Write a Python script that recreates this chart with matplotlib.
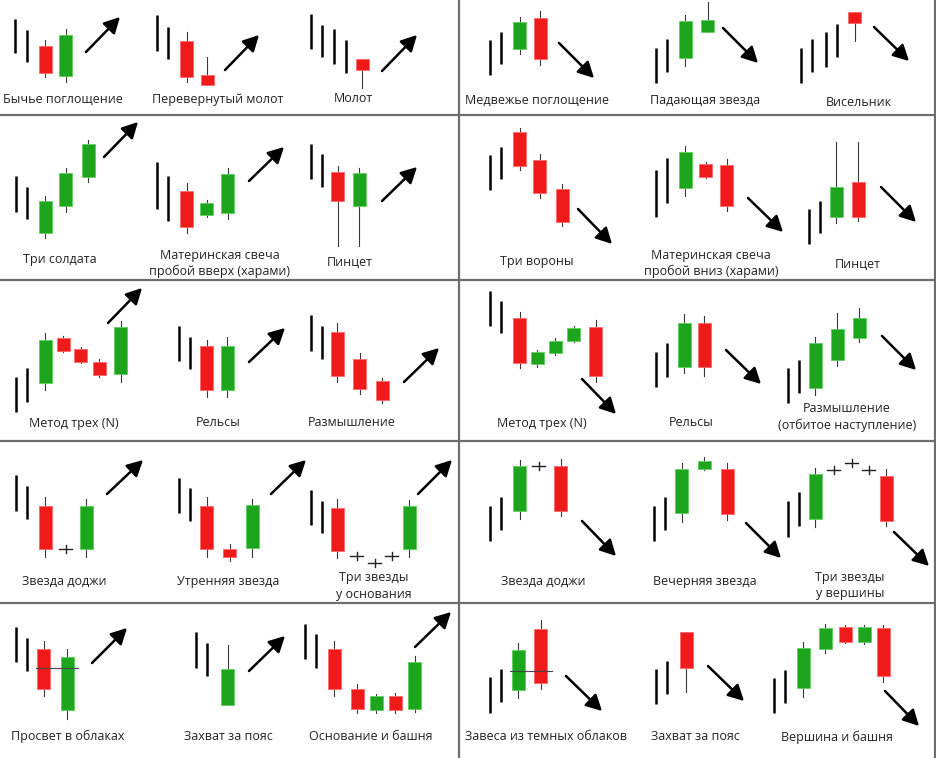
import matplotlib
matplotlib.use("Agg")
import matplotlib.pyplot as plt

plt.rcParams['font.family'] = ['Open Sans', 'DejaVu Sans']

# everything is in image pixels: x to the right, y downwards
# candle: (x, body_top, body_bottom, wick_top, wick_bottom, colour)
labels = [
    ["Бычье поглощение"], ["Перевернутый молот"], ["Молот"],
    ["Медвежье поглощение"], ["Падающая звезда"], ["Висельник"],
    ["Три солдата"], ["Материнская свеча", "пробой вверх (харами)"], ["Пинцет"],
    ["Три вороны"], ["Материнская свеча", "пробой вниз (харами)"], ["Пинцет"],
    ["Метод трех (N)"], ["Рельсы"], ["Размышление"],
    ["Метод трех (N)"], ["Рельсы"], ["Размышление", "(отбитое наступление)"],
    ["Звезда доджи"], ["Утренняя звезда"], ["Три звезды", "у основания"],
    ["Звезда доджи"], ["Вечерняя звезда"], ["Три звезды", "у вершины"],
    ["Просвет в облаках"], ["Захват за пояс"], ["Основание и башня"],
    ["Завеса из темных облаков"], ["Захват за пояс"], ["Вершина и башня"],
]
# centre of the first label line
label_pos = [
    (63, 99), (218, 99), (353, 99), (537, 100), (705, 100), (859, 102),
    (60, 260), (220, 255), (350, 262), (537, 262), (711, 255), (858, 264),
    (74, 423), (218, 423), (352, 423), (542, 423), (691, 423), (847, 409),
    (64, 581), (228, 581), (374, 578), (543, 581), (705, 581), (850, 577),
    (68, 736), (228, 737), (371, 737), (546, 737), (695, 737), (837, 737),
]
trend_lines = [
    [(15, 19, 53), (27, 30, 62)],
    [(157, 15, 51), (168, 27, 59)],
    [(311, 14, 49), (322, 25, 57), (334, 29, 64), (346, 40, 73)],
    [(490, 40, 75), (501, 32, 64)],
    [(656, 48, 83), (667, 39, 72)],
    [(801, 48, 83), (812, 39, 72), (826, 32, 67), (837, 24, 57)],
    [(16, 176, 212), (27, 187, 219)],
    [(157, 162, 209), (168, 176, 221)],
    [(311, 144, 179), (322, 154, 187)],
    [(490, 155, 190), (501, 147, 179)],
    [(656, 170, 217), (667, 158, 203)],
    [(809, 209, 244), (820, 201, 233)],
    [(16, 377, 412), (27, 368, 402)],
    [(179, 326, 361), (190, 337, 369)],
    [(311, 315, 351), (322, 326, 359)],
    [(490, 291, 326), (501, 301, 333)],
    [(656, 352, 387), (667, 343, 377)],
    [(788, 368, 403), (799, 360, 393)],
    [(16, 475, 511), (27, 486, 519)],
    [(179, 478, 513), (190, 488, 521)],
    [(311, 490, 525), (322, 501, 533)],
    [(490, 506, 541), (501, 497, 530)],
    [(654, 506, 541), (665, 497, 530)],
    [(788, 501, 537), (799, 492, 526)],
    [(16, 627, 662), (27, 638, 671)],
    [(196, 632, 668), (207, 643, 676)],
    [(305, 624, 659), (316, 634, 668)],
    [(490, 677, 713), (501, 669, 702)],
    [(656, 669, 704), (667, 661, 694)],
    [(774, 678, 713), (785, 670, 703)],
]
candles = [
    [(45.5, 46, 73, 40, 77, 'r'), (66, 35, 76, 29, 82, 'g')],
    [(187, 41, 77, 32, 82, 'r'), (207.5, 75, 85, 57, 85, 'r')],
    [(362.5, 59, 70, 59, 88, 'r')],
    [(520, 22, 49, 17, 54, 'g'), (540.5, 18, 59, 11, 65, 'r')],
    [(685.5, 21, 58, 15, 66, 'g'), (708, 20, 32, 2, 32, 'g')],
    [(855, 12, 23, 12, 41, 'r')],
    [(45.5, 201, 233, 196, 238, 'g'), (66, 173, 206, 168, 212, 'g'), (88.5, 144, 177, 140, 182, 'g')],
    [(187, 191, 227, 183, 233, 'r'), (207, 203, 215, 200, 217, 'g'), (228, 174, 213, 168, 219, 'g')],
    [(338, 172, 201, 166, 246, 'r'), (359.5, 173, 206, 168, 246, 'g')],
    [(520, 132, 166, 128, 170, 'r'), (540, 160, 193, 154, 198, 'r'), (562.5, 189, 222, 184, 226, 'r')],
    [(685.5, 152, 188, 146, 196, 'g'), (706, 164, 177, 162, 178, 'r'), (727, 165, 206, 159, 211, 'r')],
    [(836.5, 187, 217, 142, 223, 'g'), (858.5, 182, 217, 142, 221, 'r')],
    [(45.5, 340, 383, 333, 390, 'g'), (63.5, 338, 351, 336, 352, 'r'), (81, 349, 362, 347, 363, 'r'),
     (99.5, 362, 375, 359, 377, 'r'), (121, 327, 374, 321, 382, 'g')],
    [(207, 346, 390, 340, 397, 'r'), (227.5, 346, 390, 337, 397, 'g')],
    [(337.5, 332, 376, 323, 382, 'r'), (360, 359, 389, 353, 394, 'r'), (382.5, 381, 400, 378, 403, 'r')],
    [(520, 318, 363, 312, 368, 'r'), (537.5, 352, 364, 350, 367, 'g'), (555.5, 341, 353, 338, 355, 'g'),
     (574, 328, 341, 326, 342, 'g'), (596, 327, 376, 320, 382, 'r')],
    [(684.5, 323, 367, 314, 373, 'g'), (704.5, 323, 367, 316, 376, 'r')],
    [(815.5, 343, 388, 337, 395, 'g'), (837.5, 329, 360, 313, 366, 'g'), (859.5, 318, 338, 308, 342, 'g')],
    [(45.5, 506, 549, 497, 557, 'r'), (86.5, 506, 549, 499, 557, 'g')],
    [(207, 506, 549, 497, 557, 'r'), (230, 549, 557, 544, 561, 'r'), (252.5, 505, 548, 499, 557, 'g')],
    [(337.5, 508, 551, 499, 558, 'r'), (409.5, 506, 549, 500, 557, 'g')],
    [(520, 466, 511, 460, 519, 'g'), (561, 466, 511, 459, 516, 'r')],
    [(682, 469, 513, 463, 522, 'g'), (704.5, 461, 469, 457, 470, 'g'), (727.5, 469, 514, 463, 520, 'r')],
    [(815.5, 474, 519, 468, 527, 'g'), (886.5, 476, 521, 469, 526, 'r')],
    [(44, 649, 689, 641, 696, 'r'), (67.5, 657, 710, 649, 719, 'g')],
    [(228, 669, 705, 645, 705, 'g')],
    [(334.5, 649, 689, 641, 696, 'r'), (357.5, 689, 709, 684, 713, 'r'), (376.5, 696, 710, 694, 713, 'g'),
     (395.5, 696, 710, 693, 713, 'r'), (415, 662, 709, 656, 712, 'g')],
    [(518.5, 650, 690, 643, 698, 'g'), (541, 629, 683, 620, 689, 'r')],
    [(686.5, 632, 668, 632, 692, 'r')],
    [(803.5, 648, 688, 642, 697, 'g'), (825.5, 628, 649, 624, 653, 'g'), (845.5, 627, 642, 625, 643, 'r'),
     (864.5, 627, 642, 625, 644, 'g'), (883.5, 628, 676, 625, 682, 'r')],
]
# doji crosses (x, y) per panel
dojis = {18: [(66, 549)], 20: [(357, 556), (375, 563), (392, 556)],
         21: [(539, 466)], 23: [(834, 470), (852, 463), (869, 470)]}
# thin horizontal level lines (x0, x1, y)
levels = {24: (36, 78, 668), 27: (510, 552, 671)}
arrows = [
    (86, 52, 120, 17), (225, 70, 259, 35), (382, 71, 417, 35),
    (559, 43, 594, 78), (723, 28, 758, 63), (874, 27, 909, 61),
    (104, 157, 138, 122), (249, 181, 284, 147), (382, 201, 417, 167),
    (578, 209, 612, 244), (748, 198, 783, 232), (881, 187, 916, 222),
    (108, 323, 142, 288), (249, 362, 285, 328), (404, 382, 439, 348),
    (582, 379, 616, 414), (726, 350, 761, 384), (882, 336, 916, 370),
    (107, 494, 143, 460), (271, 494, 306, 460), (418, 494, 452, 460),
    (582, 521, 616, 556), (746, 523, 781, 558), (894, 532, 929, 566),
    (92, 663, 127, 628), (249, 671, 285, 636), (415, 647, 451, 612),
    (566, 676, 602, 711), (708, 666, 744, 701), (885, 691, 919, 726),
]
row_lines = [115, 280, 441, 603]

RED = '#ef1b1b'
GREEN = '#1da51d'

fig = plt.figure(figsize=(9.37, 7.58), dpi=100)
ax = fig.add_axes([0, 0, 1, 1])
ax.set_xlim(0, 937)
ax.set_ylim(758, 0)
ax.axis('off')

# frame lines
for y in row_lines:
    ax.plot([0, 935], [y, y], color='#6e6e6e', lw=1.6, solid_capstyle='butt')
ax.plot([459, 459], [0, 758], color='#6e6e6e', lw=1.6)
ax.plot([935, 935], [0, 758], color='#6e6e6e', lw=1.6)

for i in range(len(labels)):
    for x, y0, y1 in trend_lines[i]:
        ax.plot([x, x], [y0, y1], color='black', lw=1.8, solid_capstyle='butt')

    for x, top, bot, hi, lo, c in candles[i]:
        ax.plot([x, x], [hi, lo], color='#3a3a3a', lw=0.8, zorder=2)
        col = RED if c == 'r' else GREEN
        edge = '#ff6a6a' if c == 'r' else '#5fd05f'
        ax.bar(x, bot - top, bottom=top, width=13, color=col,
               edgecolor=edge, linewidth=0.6, zorder=3)

    for x, y in dojis.get(i, []):
        ax.plot([x - 6.5, x + 6.5], [y, y], color='#222', lw=1.0)
        ax.plot([x, x], [y - 4, y + 4], color='#222', lw=1.0)

    if i in levels:
        x0, x1, y = levels[i]
        ax.plot([x0, x1], [y, y], color='#444', lw=0.8, zorder=4)

    x0, y0, x1, y1 = arrows[i]
    ax.annotate('', xy=(x1, y1), xytext=(x0, y0),
                arrowprops=dict(arrowstyle='-|>,head_length=0.95,head_width=0.5',
                                lw=1.8, color='black', mutation_scale=10,
                                shrinkA=0, shrinkB=0))

    lx, ly = label_pos[i]
    for k, line in enumerate(labels[i]):
        ax.text(lx, ly + 16.5 * k, line, ha='center', va='center',
                fontsize=9, color='#222222')

fig.savefig('out.png', dpi=100)
